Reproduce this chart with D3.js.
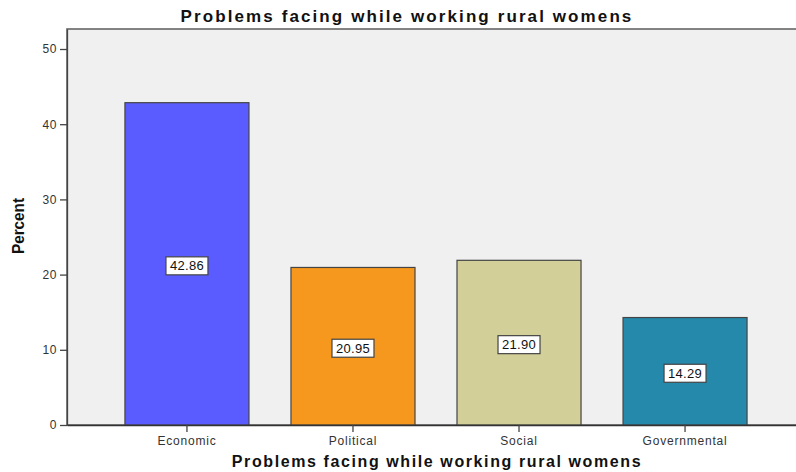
<!DOCTYPE html>
<html><head><meta charset="utf-8">
<script src="https://cdn.jsdelivr.net/npm/d3@7"></script>
<style>body{margin:0;background:#fff;}svg{display:block;font-family:"Liberation Sans",Arial,sans-serif;}</style>
</head><body>
<svg id="c" width="796" height="472"></svg>
<script>
const categories = ["Economic","Political","Social","Governmental"];
const values = [42.86,20.95,21.90,14.29];
const valueLabels = ["42.86","20.95","21.90","14.29"];
const colors = ["#5a5cff","#f7981e","#d3cf98","#2589ab"];
const yTicks = [0,10,20,30,40,50];
const title = "Problems facing while working rural womens";
const xTitle = "Problems facing while working rural womens";
const yTitle = "Percent";

const svg = d3.select("#c");
const L = 67, T = 29, R = 805, B = 425;
const y = d3.scaleLinear().domain([0, 52.66]).range([B, T]);
const x = d3.scaleBand().domain(categories).range([L, R]).paddingInner(0.253).paddingOuter(0.349);

svg.append("rect").attr("x", L).attr("y", T).attr("width", R - L).attr("height", B - T)
  .attr("fill", "#f0f0f0").attr("stroke", "#666").attr("stroke-width", 1.6);

svg.append("text").attr("x", 407).attr("y", 22).attr("text-anchor", "middle")
  .attr("font-weight", "bold").attr("font-size", 17).attr("letter-spacing", 2.1)
  .attr("fill", "#111").text(title);

// bars
const g = svg.append("g");
g.selectAll("rect.bar").data(values).enter().append("rect").attr("class","bar")
  .attr("x", (d,i) => x(categories[i])).attr("width", x.bandwidth())
  .attr("y", d => y(d)).attr("height", d => B - y(d))
  .attr("fill", (d,i) => colors[i]).attr("stroke", "#444").attr("stroke-width", 1.2);

// value labels
values.forEach((d,i) => {
  const cx = x(categories[i]) + x.bandwidth()/2;
  const cy = (y(d) + B)/2 + 2;
  const w = 42, h = 18;
  g.append("rect").attr("x", cx - w/2).attr("y", cy - h/2).attr("width", w).attr("height", h)
    .attr("fill", "#fff").attr("stroke", "#444").attr("stroke-width", 1.2);
  g.append("text").attr("x", cx).attr("y", cy + 4.5).attr("text-anchor", "middle")
    .attr("font-size", 13).attr("letter-spacing", 0.3).attr("fill", "#111").text(valueLabels[i]);
});

// y axis
const ya = svg.append("g").attr("transform", `translate(${L},0)`)
  .call(d3.axisLeft(y).tickValues(yTicks).tickSize(7).tickSizeOuter(0).tickPadding(3).tickFormat(d3.format("d")));
ya.select(".domain").attr("stroke", "#444").attr("stroke-width", 1.3);
ya.selectAll(".tick line").attr("stroke", "#444").attr("stroke-width", 1.3);
ya.selectAll(".tick text").attr("font-size", 12).attr("letter-spacing", 0.6).attr("fill", "#333").attr("font-family", "Liberation Sans, Arial, sans-serif");

// x axis
const xa = svg.append("g").attr("transform", `translate(0,${B})`)
  .call(d3.axisBottom(x).tickSize(7).tickSizeOuter(0).tickPadding(4));
xa.select(".domain").attr("stroke", "#333").attr("stroke-width", 1.5);
xa.selectAll(".tick line").attr("stroke", "#444").attr("stroke-width", 1.3);
xa.selectAll(".tick text").attr("font-size", 12).attr("letter-spacing", 0.8).attr("fill", "#333").attr("font-family", "Liberation Sans, Arial, sans-serif");

svg.append("text").attr("x", 437).attr("y", 467).attr("text-anchor", "middle")
  .attr("font-weight", "bold").attr("font-size", 16).attr("letter-spacing", 1.6).attr("fill", "#111").text(xTitle);
svg.append("text").attr("transform", "translate(24,226) rotate(-90)").attr("text-anchor", "middle")
  .attr("font-weight", "bold").attr("font-size", 17).attr("textLength", 56).attr("lengthAdjust", "spacingAndGlyphs")
  .attr("fill", "#111").text(yTitle);
</script>
</body></html>
